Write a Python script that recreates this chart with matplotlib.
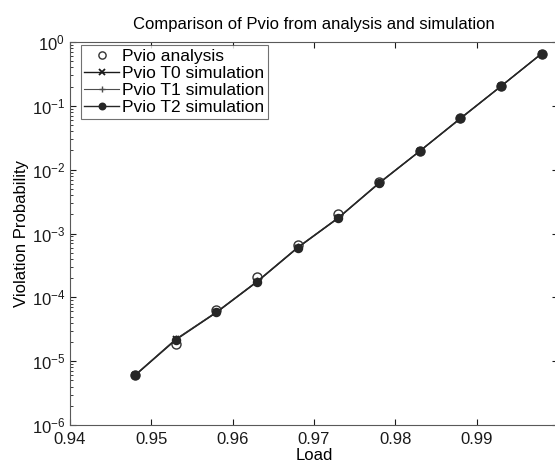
import numpy as np
import matplotlib; matplotlib.use('Agg')
import matplotlib.pyplot as plt
from matplotlib.ticker import LogLocator, NullFormatter

plt.rcParams['font.family'] = ['Liberation Sans', 'DejaVu Sans']
plt.rcParams['mathtext.fontset'] = 'custom'
plt.rcParams['mathtext.rm'] = 'Liberation Sans'

LOAD = [0.948, 0.953, 0.958, 0.963, 0.968, 0.973, 0.978, 0.983, 0.988, 0.993, 0.998]
P_ANALYSIS = [6.1e-6, 1.85e-5, 6.3e-5, 2.05e-4, 6.6e-4, 2.05e-3, 6.3e-3, 0.0198, 0.064, 0.204, 0.66]
P_T0 = [6.0e-6, 2.2e-5, 5.8e-5, 1.75e-4, 6.0e-4, 1.75e-3, 6.2e-3, 0.0195, 0.063, 0.203, 0.66]
P_T1 = [6.1e-6, 2.2e-5, 5.9e-5, 1.78e-4, 6.1e-4, 1.78e-3, 6.2e-3, 0.0196, 0.063, 0.204, 0.66]
P_T2 = [6.0e-6, 2.15e-5, 5.8e-5, 1.76e-4, 6.0e-4, 1.76e-3, 6.1e-3, 0.0195, 0.064, 0.203, 0.66]

fig = plt.figure(figsize=(5.55, 4.67), dpi=100)
ax = fig.add_axes([70/555, 42/467, 488/555, 383/467])

ax.semilogy(LOAD, P_ANALYSIS, 'o', ls='none', mfc='white', mec='0.2', ms=6.5, mew=1.0,
            label='Pvio analysis', zorder=2)
ax.semilogy(LOAD, P_T0, '-x', color='0.1', lw=1.0, ms=5, mew=1.3, label='Pvio T0 simulation', zorder=3)
ax.semilogy(LOAD, P_T1, '-+', color='0.3', lw=0.8, ms=6, mew=1.0, label='Pvio T1 simulation', zorder=3)
ax.semilogy(LOAD, P_T2, '-o', color='0.15', lw=1.0, ms=5.5, mew=1.3, mfc='0.15',
            label='Pvio T2 simulation', zorder=4)

ax.set_xlim(0.94, 1.0)
ax.set_ylim(1e-6, 1)
ax.set_xticks([0.94, 0.95, 0.96, 0.97, 0.98, 0.99])
ax.set_xticklabels(['0.94', '0.95', '0.96', '0.97', '0.98', '0.99'])
ax.yaxis.set_major_locator(LogLocator(base=10, numticks=10))
ax.yaxis.set_minor_locator(LogLocator(base=10, subs=np.arange(2, 10), numticks=20))
ax.yaxis.set_minor_formatter(NullFormatter())
ax.tick_params(which='both', direction='in', top=True, right=True, labelsize=12, colors='0.1')
ax.tick_params(which='major', length=4)
ax.tick_params(which='minor', length=2)
ax.tick_params(axis='x', pad=5)
for s in ax.spines.values():
    s.set_color('0.35')

ax.set_xlabel('Load', fontsize=12, labelpad=1)
ax.set_ylabel('Violation Probability', fontsize=12, labelpad=2)
ax.set_title('Comparison of Pvio from analysis and simulation', fontsize=12, pad=9)

leg = ax.legend(loc='upper left', bbox_to_anchor=(11/488, 1 - 3/383), borderaxespad=0,
                fontsize=12.5, frameon=True, fancybox=False, markerscale=0.8,
                handlelength=2.0, handletextpad=0.15, labelspacing=0.12, borderpad=0.2)
leg.get_frame().set_edgecolor('0.3')
leg.get_frame().set_linewidth(0.8)

fig.savefig('out.png', dpi=100)
